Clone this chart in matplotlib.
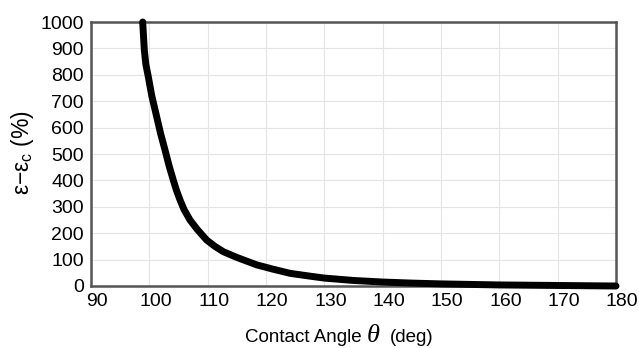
import numpy as np
import matplotlib
matplotlib.use('Agg')
import matplotlib.pyplot as plt
import matplotlib.transforms as mtransforms

# Values
theta = [98.86, 99.14, 99.40, 99.82, 100.42, 101.26, 101.96, 102.69, 103.39, 104.11,
         104.61, 105.26, 105.94, 106.97, 108.19, 109.83, 111.25, 112.68, 115.03, 118.41,
         121.16, 124.12, 127.30, 130.0, 135.0, 140.0, 145.0, 150.0, 155.0, 160.0,
         165.0, 170.0, 175.0, 180.0]
strain = [1000, 894, 840, 793, 720, 641, 575, 515, 455, 401,
          365, 326, 290, 250, 215, 174, 150, 130, 108, 80,
          64, 48, 38, 30, 21, 15, 11, 8, 6, 4,
          3, 2, 1, 0]

plt.rcParams['font.family'] = ['Liberation Sans', 'DejaVu Sans']
plt.rcParams['mathtext.fontset'] = 'custom'
plt.rcParams['mathtext.rm'] = 'Liberation Sans'
plt.rcParams['mathtext.it'] = 'Liberation Serif:italic'

fontsize = 14

fig = plt.figure(figsize=(6.39, 3.48), dpi=100)
ax = fig.add_axes([91/639, 62/348, 525/639, 264/348])

ax.plot(theta, strain, color='black', linewidth=5, solid_capstyle='round',
        solid_joinstyle='round', clip_on=False, zorder=3)

ax.set_xlim(90, 180)
ax.set_ylim(0, 1000)
ax.set_xticks(np.arange(90, 181, 10))
ax.set_yticks(np.arange(0, 1001, 100))
ax.grid(True, color='#e4e4e4', linewidth=0.8)
ax.tick_params(length=0, labelsize=fontsize, pad=5)
for s in ax.spines.values():
    s.set_color('#555555')
    s.set_linewidth(1.8)

# x tick labels sit a little right of their grid lines in the reference
shift = mtransforms.ScaledTranslation(6/100, 0, fig.dpi_scale_trans)
for lab in ax.get_xticklabels():
    lab.set_transform(lab.get_transform() + shift)

# x label built from pieces so theta can be bigger
fig.text(245/639, 6/348, 'Contact Angle', fontsize=13.5, ha='left', va='baseline')
fig.text(366/639, 6/348, r'$\theta$', fontsize=19, ha='left', va='baseline')
fig.text(390/639, 6/348, '(deg)', fontsize=13.5, ha='left', va='baseline')

fig.text(22/639, 1 - 153/348, r'ε−ε$_\mathrm{c}$ (%)', fontsize=16.5,
         rotation=90, ha='center', va='center')

fig.savefig('out.png', dpi=100)
